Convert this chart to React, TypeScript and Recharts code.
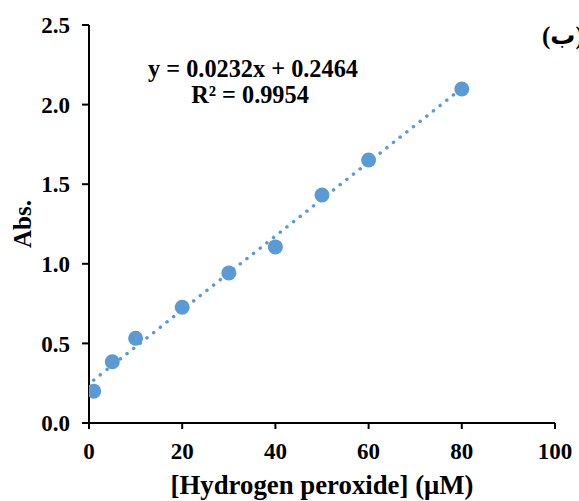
import React from "react";
import { ComposedChart, Scatter, XAxis, YAxis, ReferenceLine } from "recharts";

const concentrations = [1, 5, 10, 20, 30, 40, 50, 60, 80];
const absorbances = [0.2, 0.385, 0.532, 0.727, 0.942, 1.106, 1.432, 1.652, 2.098];
const xTicks = [0, 20, 40, 60, 80, 100];
const yTicks = [0, 0.5, 1.0, 1.5, 2.0, 2.5];
const trendSlope = 0.0232;
const trendIntercept = 0.2464;
const trendRange = [1, 80];
const equationText = "y = 0.0232x + 0.2464";
const r2Text = "R\u00B2 = 0.9954";
const panelLabel = "(\u0628)";
const xTitle = "[Hydrogen peroxide] (\u03BCM)";
const yTitle = "Abs.";

const data = concentrations.map((x, i) => ({ x, y: absorbances[i] }));
const trendSegment = trendRange.map((x) => ({ x, y: trendSlope * x + trendIntercept }));

const FONT = "'Liberation Serif', 'Times New Roman', 'DejaVu Sans', serif";
const BLUE = "#5B9BD5";

const Dot = (props: any) => <circle cx={props.cx} cy={props.cy} r={7.5} fill={BLUE} />;

export default function App() {
  return (
    <div style={{ position: "absolute", left: 0, top: 0, width: 579, height: 501, background: "#fff" }}>
      <ComposedChart width={579} height={501} margin={{ top: 25, right: 24, bottom: 0, left: 0 }}>
        <XAxis
          type="number"
          dataKey="x"
          domain={[0, 100]}
          ticks={xTicks}
          height={78}
          axisLine={{ stroke: "#000", strokeWidth: 2 }}
          tickLine={{ stroke: "#000", strokeWidth: 2 }}
          tickSize={6}
          tickMargin={14}
          tick={{ fill: "#000", fontSize: 23, fontWeight: "bold", fontFamily: FONT }}
          allowDataOverflow
        />
        <YAxis
          type="number"
          dataKey="y"
          domain={[0, 2.5]}
          ticks={yTicks}
          width={89}
          axisLine={{ stroke: "#000", strokeWidth: 2 }}
          tickLine={{ stroke: "#000", strokeWidth: 2 }}
          tickSize={7}
          tickMargin={12}
          tickFormatter={(v: number) => v.toFixed(1)}
          tick={{ fill: "#000", fontSize: 23, fontWeight: "bold", fontFamily: FONT }}
          allowDataOverflow
        />
        <ReferenceLine
          segment={trendSegment}
          stroke={BLUE}
          strokeWidth={3.5}
          strokeDasharray="0.1 8.4"
          strokeLinecap="round"
          ifOverflow="visible"
        />
        <Scatter data={data} dataKey="y" fill={BLUE} shape={Dot} isAnimationActive={false} />
      </ComposedChart>
      <svg
        width={579}
        height={501}
        style={{ position: "absolute", left: 0, top: 0, pointerEvents: "none" }}
      >
        <g fontFamily={FONT} fontWeight="bold" fill="#000">
          <text x={253} y={77} fontSize={24.3} textAnchor="middle">{equationText}</text>
          <text x={250} y={103} fontSize={24.3} textAnchor="middle">{r2Text}</text>
          <text x={542} y={44} fontSize={25} textAnchor="start">{panelLabel}</text>
          <text x={322} y={494} fontSize={26.8} textAnchor="middle">{xTitle}</text>
          <text
            x={22}
            y={224}
            fontSize={25}
            textAnchor="middle"
            dominantBaseline="central"
            transform="rotate(-90 22 224)"
          >
            {yTitle}
          </text>
        </g>
      </svg>
    </div>
  );
}
